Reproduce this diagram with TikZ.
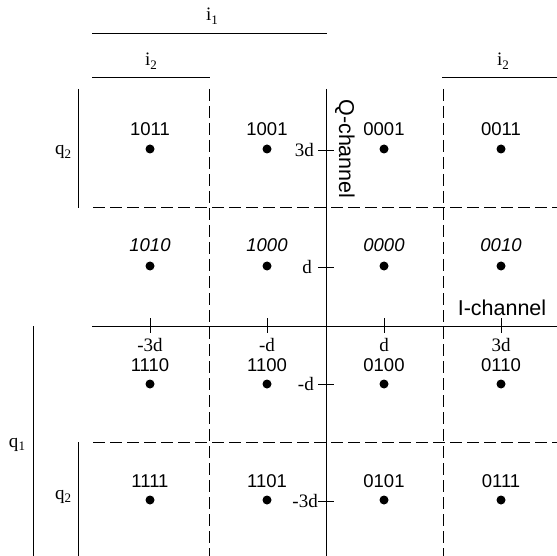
\documentclass[tikz,border=0pt]{standalone}
\usepackage{fontspec}
\setmainfont{Liberation Serif}
\setsansfont{Liberation Sans}
\newcommand{\sbx}[1]{\raisebox{-3.5pt}{\fontsize{13}{13}\selectfont #1}}
\begin{document}
\begin{tikzpicture}[x=1pt,y=-1pt,
  ax/.style={line width=0.95pt},
  dsh/.style={line width=0.95pt, dash pattern=on 12pt off 5pt},
  brk/.style={line width=0.95pt},
  tk/.style={line width=0.7pt},
  dot/.style={circle, fill=black, inner sep=0pt, minimum size=9pt},
  code/.style={font=\sffamily\fontsize{18.5}{18.5}\selectfont, inner sep=0pt, anchor=base},
  codeit/.style={font=\sffamily\itshape\fontsize{18.5}{18.5}\selectfont, inner sep=0pt, anchor=base},
  ticklab/.style={font=\fontsize{19}{19}\selectfont, inner sep=0pt},
  chan/.style={font=\sffamily\fontsize{21.5}{21.5}\selectfont, inner sep=0pt},
  blab/.style={font=\fontsize{19}{19}\selectfont, inner sep=0pt, anchor=base},
]
\useasboundingbox (0,0) rectangle (557,556);

% axes and grid coordinates
\coordinate (Ileft) at (92,326);
\coordinate (Iright) at (557,326);
\coordinate (Qtop) at (326,89);
\coordinate (Qbot) at (326,556);
\coordinate (v1t) at (209,89);
\coordinate (v1b) at (209,556);
\coordinate (v2t) at (443,89);
\coordinate (v2b) at (443,556);
\coordinate (h1l) at (93,207.5);
\coordinate (h1r) at (557,207.5);
\coordinate (h2l) at (93,442);
\coordinate (h2r) at (557,442);

\draw[ax] (Ileft) -- (Iright);
\draw[ax] (Qtop) -- (Qbot);
\draw[dsh] (v1t) -- (v1b);
\draw[dsh] (v2t) -- (v2b);
\draw[dsh] (h1l) -- (h1r);
\draw[dsh] (h2l) -- (h2r);

% ticks on I axis
\foreach \x in {150,267,384,501} { \draw[tk] (\x,318) -- (\x,333); }
% ticks on Q axis
\foreach \y in {150,267,384,501} { \draw[tk] (318,\y) -- (334,\y); }

\node[ticklab] (tim3) at (150,345) {-3d};
\node[ticklab] (tim1) at (267,345) {-d};
\node[ticklab] (tip1) at (384,345) {d};
\node[ticklab] (tip3) at (501,345) {3d};
\node[ticklab, anchor=east] (tqp3) at (314,150) {3d};
\node[ticklab, anchor=east] (tqp1) at (312,267) {d};
\node[ticklab, anchor=east] (tqm1) at (314,384) {-d};
\node[ticklab, anchor=east] (tqm3) at (318,501) {-3d};

\node[chan, rotate=-90] (qch) at (345,149) {Q-channel};
\node[chan] (ich) at (502,308) {I-channel};

% constellation points
\foreach \c/\x/\y in {1011/150/149, 1001/267/149, 0001/384/149, 0011/501/149,
                      1110/150/384, 1100/267/384, 0100/384/384, 0110/501/384,
                      1111/150/500, 1101/267/500, 0101/384/500, 0111/501/500} {
  \node[dot] (d\c) at (\x,\y) {};
  \node[code] (l\c) at (\x,\y-13) {\c};
}
\foreach \c/\x/\y in {1010/150/266, 1000/267/266, 0000/384/266, 0010/501/266} {
  \node[dot] (d\c) at (\x,\y) {};
  \node[codeit] (l\c) at (\x,\y-14.5) {\c};
}

% bit brackets
\coordinate (i1a) at (92,33);
\coordinate (i1b) at (327,33);
\draw[brk] (i1a) -- (i1b);
\node[blab] (i1) at (212,21) {i\sbx{1}};
\coordinate (i2a) at (92,77);
\coordinate (i2b) at (210,77);
\draw[brk] (i2a) -- (i2b);
\node[blab] (i2l) at (151,66) {i\sbx{2}};
\coordinate (i2c) at (442,77);
\coordinate (i2d) at (557,77);
\draw[brk] (i2c) -- (i2d);
\node[blab] (i2r) at (503,66) {i\sbx{2}};

\coordinate (q2a) at (78,89);
\coordinate (q2b) at (78,208);
\draw[brk] (q2a) -- (q2b);
\node[blab] (q2u) at (63,155) {q\sbx{2}};
\coordinate (q1a) at (33,326);
\coordinate (q1b) at (33,556);
\draw[brk] (q1a) -- (q1b);
\node[blab] (q1) at (17,447) {q\sbx{1}};
\coordinate (q2c) at (78,442);
\coordinate (q2d) at (78,556);
\draw[brk] (q2c) -- (q2d);
\node[blab] (q2l) at (63,499) {q\sbx{2}};
\end{tikzpicture}
\end{document}
